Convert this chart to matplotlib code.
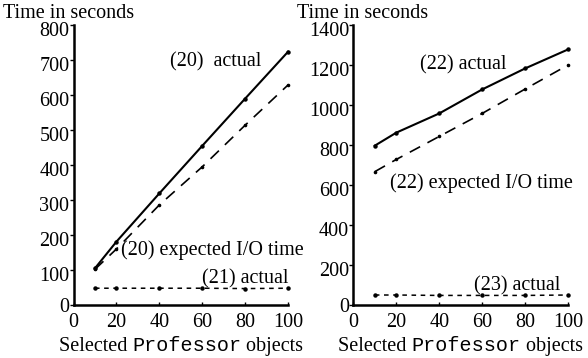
import matplotlib
matplotlib.use('Agg')
import matplotlib.pyplot as plt
import matplotlib.transforms as mtransforms
from matplotlib.offsetbox import TextArea, HPacker, AnnotationBbox

# selected Professor objects
x = [10, 20, 40, 60, 80, 100]

# left panel: queries (20) and (21)
actual_20 = [105, 181, 319, 455, 590, 724]
expected_20 = [102, 160, 286, 395, 514, 629]
actual_21 = [48, 48, 48, 48, 47, 48]

# right panel: queries (22) and (23)
actual_22 = [797, 862, 958, 1078, 1183, 1278]
expected_22 = [667, 728, 843, 958, 1080, 1200]
actual_23 = [50, 50, 48, 48, 48, 50]

xticks = [0, 20, 40, 60, 80, 100]
yticks_left = [0, 100, 200, 300, 400, 500, 600, 700, 800]
yticks_right = [0, 200, 400, 600, 800, 1000, 1200, 1400]

serif = 'Liberation Serif'
mono = 'Liberation Mono'
fs = 14.5

plt.rcParams['font.family'] = serif

fig = plt.figure(figsize=(5.88, 3.58), dpi=100)
ax1 = fig.add_axes([0.125, 0.148, 0.365, 0.782])
ax2 = fig.add_axes([0.601, 0.148, 0.365, 0.782])


def style_axes(ax, yticks):
    ax.set_xlim(0, 100)
    ax.set_ylim(0, yticks[-1])
    ax.set_xticks(xticks)
    ax.set_yticks(yticks)
    for s in ['top', 'right']:
        ax.spines[s].set_visible(False)
    for s in ['left', 'bottom']:
        ax.spines[s].set_linewidth(1.8)
    ax.tick_params(axis='y', direction='out', length=3, width=1, pad=0,
                   labelsize=fs)
    ax.tick_params(axis='x', direction='in', length=2, width=1, pad=6,
                   labelsize=fs)

    # tick labels sit just below their tick in the original
    shift = mtransforms.ScaledTranslation(0, -4 / 100, fig.dpi_scale_trans)
    for val, lab in zip(yticks, ax.get_yticklabels()):
        if val != 0:
            lab.set_transform(lab.get_transform() + shift)

    # x label: serif text with the class name in monospace
    parts = [TextArea('Selected ', textprops=dict(family=serif, size=fs)),
             TextArea('Professor', textprops=dict(family=mono, size=fs)),
             TextArea(' objects', textprops=dict(family=serif, size=fs))]
    box = HPacker(children=parts, align='baseline', pad=0, sep=0)
    ab = AnnotationBbox(box, (0.5, -0.145), xycoords='axes fraction',
                        frameon=False, box_alignment=(0.5, 0.5))
    ax.add_artist(ab)


def draw(ax, actual, expected, flat):
    ax.plot(x, actual, color='black', lw=1.5, marker='o', ms=2.2,
            clip_on=False)
    ax.plot(x, expected, color='black', lw=1.2, dashes=(7, 5),
            marker='o', ms=1.6, clip_on=False)
    ax.plot(x, flat, color='black', lw=1.1, dashes=(3, 3), marker='o',
            ms=2.2, clip_on=False)


draw(ax1, actual_20, expected_20, actual_21)
style_axes(ax1, yticks_left)
ax1.text(45, 695, '(20)  actual', fontsize=fs, va='center')
ax1.text(22, 157, '(20) expected I/O time', fontsize=fs, va='center')
ax1.text(60, 46, '(21) actual', fontsize=fs, va='bottom')

draw(ax2, actual_22, expected_22, actual_23)
style_axes(ax2, yticks_right)
ax2.text(31, 1200, '(22) actual', fontsize=fs, va='center')
ax2.text(17, 610, '(22) expected I/O time', fontsize=fs, va='center',
         clip_on=False)
ax2.text(56, 50, '(23) actual', fontsize=fs, va='bottom')

fig.text(0.005, 0.962, 'Time in seconds', fontsize=fs, va='center')
fig.text(0.505, 0.962, 'Time in seconds', fontsize=fs, va='center')

fig.savefig('out.png', dpi=100)
